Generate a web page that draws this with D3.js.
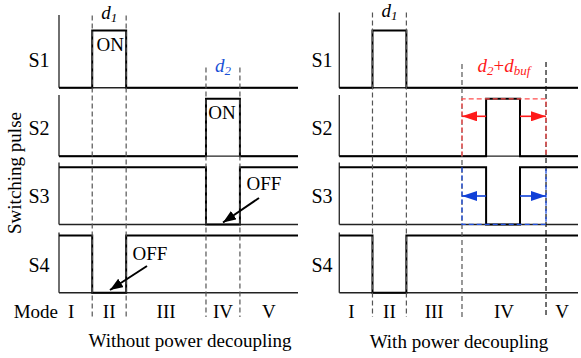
<!DOCTYPE html>
<html><head><meta charset="utf-8">
<script src="https://cdn.jsdelivr.net/npm/d3@7"></script>
<style>html,body{margin:0;padding:0;background:#fff;}svg{display:block;font-family:"Liberation Serif","Times New Roman",serif;}</style>
</head><body><svg id="c" width="581" height="358"></svg>
<script>
// ---- data ----
const signals = ["S1", "S2", "S3", "S4"];
const modes = ["I", "II", "III", "IV", "V"];
const panelTitles = ["Without power decoupling", "With power decoupling"];
// mode boundaries (time units 0..100)
const leftEdges = [0, 13.9, 28.1, 61.5, 75.7, 100];
const rightEdges = [0, 13.9, 28.1, 51.4, 86.6, 100];
// switching waveforms as [time, level] steps
const leftS1 = [[0, 0], [13.9, 1], [28.1, 0], [100, 0]];
const leftS2 = [[0, 0], [61.5, 1], [75.7, 0], [100, 0]];
const leftS3 = [[0, 1], [61.5, 0], [75.7, 1], [100, 1]];
const leftS4 = [[0, 1], [13.9, 0], [28.1, 1], [100, 1]];
const rightS1 = [[0, 0], [13.9, 1], [28.1, 0], [100, 0]];
const rightS2 = [[0, 0], [61.5, 1], [75.7, 0], [100, 0]];
const rightS3 = [[0, 1], [61.5, 0], [75.7, 1], [100, 1]];
const rightS4 = [[0, 1], [13.9, 0], [28.1, 1], [100, 1]];

const svg = d3.select("#c");
const defs = svg.append("defs");
function marker(id, color, w, h) {
  defs.append("marker").attr("id", id).attr("viewBox", `0 0 ${w} ${h}`)
    .attr("refX", w).attr("refY", h / 2).attr("markerWidth", w).attr("markerHeight", h)
    .attr("markerUnits", "userSpaceOnUse").attr("orient", "auto")
    .append("path").attr("d", `M0,0L${w},${h / 2}L0,${h}Z`).attr("fill", color);
}
marker("ab", "#000", 13, 10);
marker("ar", "#ff1a1a", 15, 10);
marker("abl", "#1040d8", 15, 10);

const rowTop = d3.scaleLinear().domain([0, 3]).range([30.5, 235.5]);
const rowH = 57.3;
const yLev = i => d3.scaleLinear().domain([0, 1]).range([rowTop(i) + rowH, rowTop(i)]);

function panel(x0, x1, edges, waves, axisTops) {
  const x = d3.scaleLinear().domain([0, 100]).range([x0, x1]);
  const g = svg.append("g");
  signals.forEach((s, i) => {
    const y = yLev(i);
    g.append("line").attr("x1", x(0)).attr("x2", x(0)).attr("y1", axisTops[i]).attr("y2", y(0))
      .attr("stroke", "#333").attr("stroke-width", 1.4);
    g.append("line").attr("x1", x(0)).attr("x2", x(100)).attr("y1", y(0)).attr("y2", y(0))
      .attr("stroke", "#222").attr("stroke-width", 1.4);
    const line = d3.line().x(d => x(d[0])).y(d => y(d[1])).curve(d3.curveStepAfter);
    g.append("path").attr("d", line(waves[i])).attr("fill", "none")
      .attr("stroke", "#000").attr("stroke-width", 2);
  });
  return {x, g};
}

// labels S1..S4
function sLabels(cx) {
  signals.forEach((s, i) => {
    const y = yLev(i);
    svg.append("text").attr("x", cx).attr("y", (y(0) + y(1)) / 2 + 7.5)
      .attr("text-anchor", "middle").attr("font-size", 20).text(s);
  });
}

function vdash(x, t, y1, y2, color) {
  svg.append("line").attr("x1", x(t)).attr("x2", x(t)).attr("y1", y1).attr("y2", y2)
    .attr("stroke", color).attr("stroke-width", 1.2).attr("stroke-dasharray", "5,3");
}

function modeLabels(x, edges, dx0) {
  modes.forEach((m, k) => {
    const cx = x((edges[k] + edges[k + 1]) / 2) + (k === 0 ? dx0 : 0);
    svg.append("text").attr("x", cx).attr("y", 317.5).attr("text-anchor", "middle")
      .attr("font-size", 19).text(m);
  });
}

function dLabel(cx, y, main, sub, color) {
  const t = svg.append("text").attr("x", cx).attr("y", y).attr("text-anchor", "middle")
    .attr("font-size", 19).attr("fill", color).attr("font-style", "italic");
  t.append("tspan").text("d");
  t.append("tspan").attr("font-size", 13).attr("dy", 3).text(main);
  if (sub) {
    t.append("tspan").attr("dy", -3).attr("font-style", "normal").text("+");
    t.append("tspan").text("d");
    t.append("tspan").attr("font-size", 13).attr("dy", 3).text(sub);
  }
}

// ---- left panel ----
const L = panel(59, 298, leftEdges, [leftS1, leftS2, leftS3, leftS4], [15, 95, 162.5, 232.5]);
sLabels(39);
vdash(L.x, leftEdges[1], 15.5, 317, "#555");
vdash(L.x, leftEdges[2], 15.5, 317, "#555");
vdash(L.x, leftEdges[3], 67.5, 317, "#555");
vdash(L.x, leftEdges[4], 67.5, 317, "#555");
modeLabels(L.x, leftEdges, -4.5);
svg.append("text").attr("x", 58).attr("y", 317.5).attr("text-anchor", "end").attr("font-size", 19).text("Mode");
dLabel(L.x((leftEdges[1] + leftEdges[2]) / 2), 18.5, "1", null, "#000");
dLabel(L.x((leftEdges[3] + leftEdges[4]) / 2), 72, "2", null, "#1a4fd6");
svg.append("text").attr("x", L.x((leftEdges[1] + leftEdges[2]) / 2) + 1).attr("y", 51).attr("text-anchor", "middle").attr("font-size", 19).text("ON");
svg.append("text").attr("x", L.x((leftEdges[3] + leftEdges[4]) / 2) - 1).attr("y", 119).attr("text-anchor", "middle").attr("font-size", 19).text("ON");
svg.append("text").attr("x", 264).attr("y", 189.5).attr("text-anchor", "middle").attr("font-size", 19).text("OFF");
svg.append("text").attr("x", 150).attr("y", 259.5).attr("text-anchor", "middle").attr("font-size", 19).text("OFF");
svg.append("line").attr("x1", 259).attr("y1", 198).attr("x2", 223).attr("y2", 222.5)
  .attr("stroke", "#000").attr("stroke-width", 2).attr("marker-end", "url(#ab)");
svg.append("line").attr("x1", 147).attr("y1", 266).attr("x2", 110).attr("y2", 290)
  .attr("stroke", "#000").attr("stroke-width", 2).attr("marker-end", "url(#ab)");
svg.append("text").attr("x", 190).attr("y", 347).attr("text-anchor", "middle").attr("font-size", 19).text(panelTitles[0]);
svg.append("text").attr("transform", "translate(21,173) rotate(-90)").attr("text-anchor", "middle")
  .attr("font-size", 19).text("Switching pulse");

// ---- right panel ----
const R = panel(339.3, 578, rightEdges, [rightS1, rightS2, rightS3, rightS4], [12.5, 95, 162.5, 232.5]);
sLabels(322);
vdash(R.x, rightEdges[1], 12.5, 317, "#555");
vdash(R.x, rightEdges[2], 12.5, 317, "#555");
vdash(R.x, rightEdges[3], 64, 317, "#555");
vdash(R.x, rightEdges[4], 62, 315, "#111");
modeLabels(R.x, rightEdges, -4.5);
dLabel(R.x((rightEdges[1] + rightEdges[2]) / 2), 17, "1", null, "#000");
dLabel(R.x((rightEdges[3] + rightEdges[4]) / 2), 71.5, "2", "buf", "#ff1a1a");
svg.append("text").attr("x", 459).attr("y", 348).attr("text-anchor", "middle").attr("font-size", 19).text(panelTitles[1]);

// buffer regions
const bx1 = R.x(rightEdges[3]), bx2 = R.x(rightEdges[4]);
const y2 = yLev(1), y3 = yLev(2);
svg.append("path").attr("d", `M${bx1},${y2(0)}V${y2(1)}H${bx2}V${y2(0)}`).attr("fill", "none")
  .attr("stroke", "#ff4d4d").attr("stroke-width", 1.3).attr("stroke-dasharray", "5,3");
svg.append("path").attr("d", `M${bx1},${y3(1)}V${y3(0)}H${bx2}V${y3(1)}`).attr("fill", "none")
  .attr("stroke", "#2050e0").attr("stroke-width", 1.3).attr("stroke-dasharray", "5,3");
const ay2 = 116.3, ay3 = 196;
svg.append("line").attr("x1", R.x(rightS2[1][0])).attr("x2", bx1).attr("y1", ay2).attr("y2", ay2)
  .attr("stroke", "#ff1a1a").attr("stroke-width", 1.6).attr("marker-end", "url(#ar)");
svg.append("line").attr("x1", R.x(rightS2[2][0])).attr("x2", bx2).attr("y1", ay2).attr("y2", ay2)
  .attr("stroke", "#ff1a1a").attr("stroke-width", 1.6).attr("marker-end", "url(#ar)");
svg.append("line").attr("x1", R.x(rightS3[1][0])).attr("x2", bx1).attr("y1", ay3).attr("y2", ay3)
  .attr("stroke", "#1040d8").attr("stroke-width", 1.6).attr("marker-end", "url(#abl)");
svg.append("line").attr("x1", R.x(rightS3[2][0])).attr("x2", bx2).attr("y1", ay3).attr("y2", ay3)
  .attr("stroke", "#1040d8").attr("stroke-width", 1.6).attr("marker-end", "url(#abl)");
</script></body></html>
